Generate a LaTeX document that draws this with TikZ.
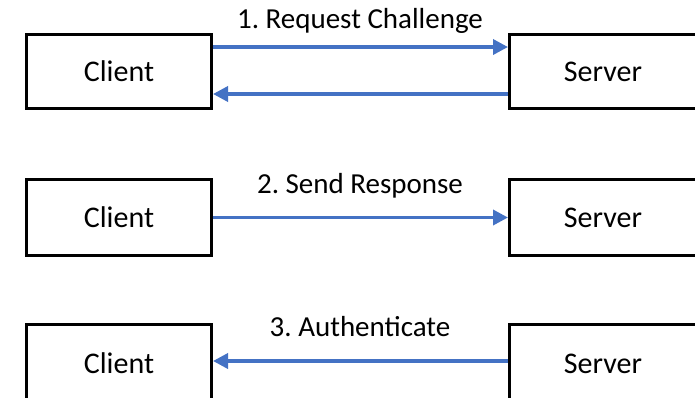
\documentclass[tikz,border=0pt]{standalone}
\usepackage{fontspec}
\setmainfont{Carlito}
\usetikzlibrary{arrows.meta}
\definecolor{arrowblue}{HTML}{4472C4}
\frenchspacing
\begin{document}
\begin{tikzpicture}[x=1pt,y=-1pt,
  box/.style={draw=black,line width=3pt,minimum width=185pt,minimum height=74pt,inner sep=0pt,font=\fontsize{30}{36}\selectfont},
  srv/.style={box,minimum width=187pt},
  lbl/.style={anchor=base,inner sep=0pt,font=\fontsize{29}{34}\selectfont},
  flow/.style={draw=arrowblue,line width=3.5pt,-{Triangle[length=15pt,width=15pt]}}]
\useasboundingbox (0,0) rectangle (695,397);
% row 1
\node[box] (c1) at (119,71.5) {Client};
\node[srv] (s1) at (603,71.5) {Server};
\draw[flow] ([yshift=24.5pt]c1.east) -- ([yshift=24.5pt]s1.west);
\draw[flow] ([yshift=-22.5pt]s1.west) -- ([yshift=-22.5pt]c1.east);
\node[lbl] (l1) at (360,28) {1. Request Challenge};
% row 2
\node[box,minimum height=76pt] (c2) at (119,217.5) {Client};
\node[srv,minimum height=76pt] (s2) at (603,217.5) {Server};
\draw[flow] (c2.east) -- (s2.west);
\node[lbl] (l2) at (360,193) {2. Send Response};
% row 3
\node[box,minimum height=78pt] (c3) at (119,363.5) {Client};
\node[srv,minimum height=78pt] (s3) at (603,363.5) {Server};
\draw[flow] ([yshift=2.5pt]s3.west) -- ([yshift=2.5pt]c3.east);
\node[lbl] (l3) at (360,336) {3. Authenticate};
\end{tikzpicture}
\end{document}
